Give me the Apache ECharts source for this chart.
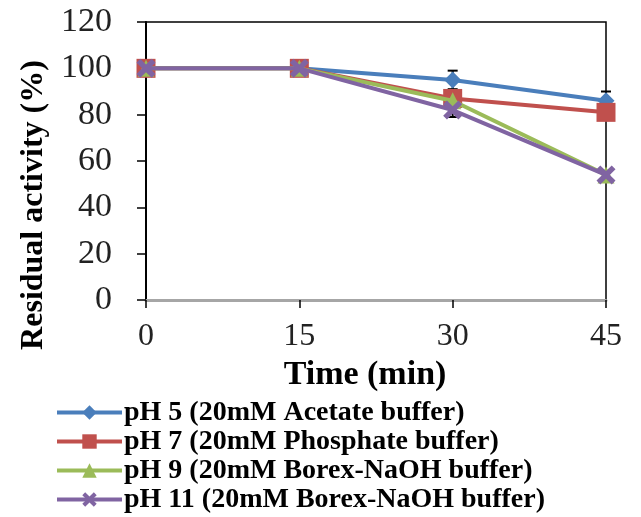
<!DOCTYPE html>
<html>
<head>
<meta charset="utf-8">
<script src="https://cdn.jsdelivr.net/npm/echarts@6/dist/echarts.min.js"></script>
<style>
  html, body { margin: 0; padding: 0; background: #fff; }
  #chart { width: 641px; height: 517px; }
</style>
</head>
<body>
<div id="chart"></div>
<script>
// Sampling times (min)
const times = [0, 15, 30, 45];

// Residual activity (%) for each buffer
const seriesNames = [
  'pH 5 (20mM Acetate buffer)',
  'pH 7 (20mM Phosphate buffer)',
  'pH 9 (20mM Borex-NaOH buffer)',
  'pH 11 (20mM Borex-NaOH buffer)'
];
const ph5 = [100, 100, 95, 86];
const ph7 = [100, 100, 87, 81];
const ph9 = [100, 100, 86, 54];
const ph11 = [100, 100, 82, 54];

// Standard deviations
const ph5Err = [0, 0, 4, 4];
const ph7Err = [0, 0, 1.5, 1.5];
const ph9Err = [0, 0, 1.5, 1];
const ph11Err = [0, 0, 3, 1];

// Axis ticks
const yTicks = [0, 20, 40, 60, 80, 100, 120];
const xTicks = [0, 15, 30, 45];

const colors = ['#4a7ebb', '#c0504d', '#9bbb59', '#8064a2'];
const symbols = [
  'diamond',
  'rect',
  'triangle',
  'path://M2,0 L5,3 L8,0 L10,2 L7,5 L10,8 L8,10 L5,7 L2,10 L0,8 L3,5 L0,2 Z'
];
const symbolSizes = [17, 19, 17, 19];
const values = [ph5, ph7, ph9, ph11];
const errors = [ph5Err, ph7Err, ph9Err, ph11Err];

const serif = '"Liberation Serif", "Times New Roman", serif';

const chart = echarts.init(document.getElementById('chart'), null, { renderer: 'canvas' });

const lineSeries = values.map((vals, i) => ({
  name: seriesNames[i],
  type: 'line',
  data: times.map((t, j) => [t, vals[j]]),
  symbol: symbols[i],
  symbolSize: symbolSizes[i],
  lineStyle: { color: colors[i], width: 4 },
  itemStyle: { color: colors[i] },
  z: 3 + i
}));

// Error bars drawn through the axis scales
const errorSeries = values.map((vals, i) => ({
  type: 'custom',
  id: 'err' + i,
  data: times.map((t, j) => [t, vals[j] - errors[i][j], vals[j] + errors[i][j]]),
  renderItem: function (params, api) {
    const lo = api.coord([api.value(0), api.value(1)]);
    const hi = api.coord([api.value(0), api.value(2)]);
    if (Math.abs(hi[1] - lo[1]) < 1) return null;
    const w = 5;
    const style = { stroke: '#000', lineWidth: 2 };
    return {
      type: 'group',
      children: [
        { type: 'line', shape: { x1: lo[0], y1: lo[1], x2: hi[0], y2: hi[1] }, style },
        { type: 'line', shape: { x1: hi[0] - w, y1: hi[1], x2: hi[0] + w, y2: hi[1] }, style },
        { type: 'line', shape: { x1: lo[0] - w, y1: lo[1], x2: lo[0] + w, y2: lo[1] }, style }
      ]
    };
  },
  z: 2,
  silent: true
}));

chart.setOption({
  animation: false,
  backgroundColor: '#fff',
  grid: {
    left: 146, right: 35, top: 22, bottom: 217,
    show: true, borderColor: '#000', borderWidth: 1.5, backgroundColor: 'transparent'
  },
  legend: {
    data: seriesNames,
    orient: 'vertical',
    left: 55,
    top: 398,
    padding: 0,
    itemWidth: 65,
    itemHeight: 18,
    itemGap: 0,
    lineStyle: { width: 4 },
    textStyle: {
      fontFamily: serif, fontWeight: 'bold', fontSize: 28, color: '#000',
      lineHeight: 29, padding: [0, 0, 0, -3]
    }
  },
  xAxis: {
    type: 'value',
    min: xTicks[0],
    max: xTicks[xTicks.length - 1],
    interval: 15,
    name: 'Time (min)',
    nameLocation: 'middle',
    nameGap: 56,
    nameTextStyle: {
      fontFamily: serif, fontWeight: 'bold', fontSize: 34, color: '#000',
      padding: [0, 22, 0, 0]
    },
    axisLine: { show: true, lineStyle: { color: '#a6a6a6', width: 3 } },
    axisTick: { show: true, inside: false, length: 8, lineStyle: { color: '#000', width: 1.5 } },
    axisLabel: { fontFamily: serif, fontSize: 32, color: '#222', margin: 21 },
    splitLine: { show: false }
  },
  yAxis: {
    type: 'value',
    min: yTicks[0],
    max: yTicks[yTicks.length - 1],
    interval: 20,
    name: 'Residual activity (%)',
    nameLocation: 'middle',
    nameGap: 96,
    nameTextStyle: {
      fontFamily: serif, fontWeight: 'bold', fontSize: 32, color: '#000',
      padding: [0, 88, 0, 0]
    },
    axisLine: { show: true, lineStyle: { color: '#000', width: 2 } },
    axisTick: { show: true, inside: false, length: 9, lineStyle: { color: '#000', width: 1.5 } },
    axisLabel: { fontFamily: serif, fontSize: 34, color: '#222', margin: 34 },
    splitLine: { show: false }
  },
  series: errorSeries.concat(lineSeries)
});
</script>
</body>
</html>
